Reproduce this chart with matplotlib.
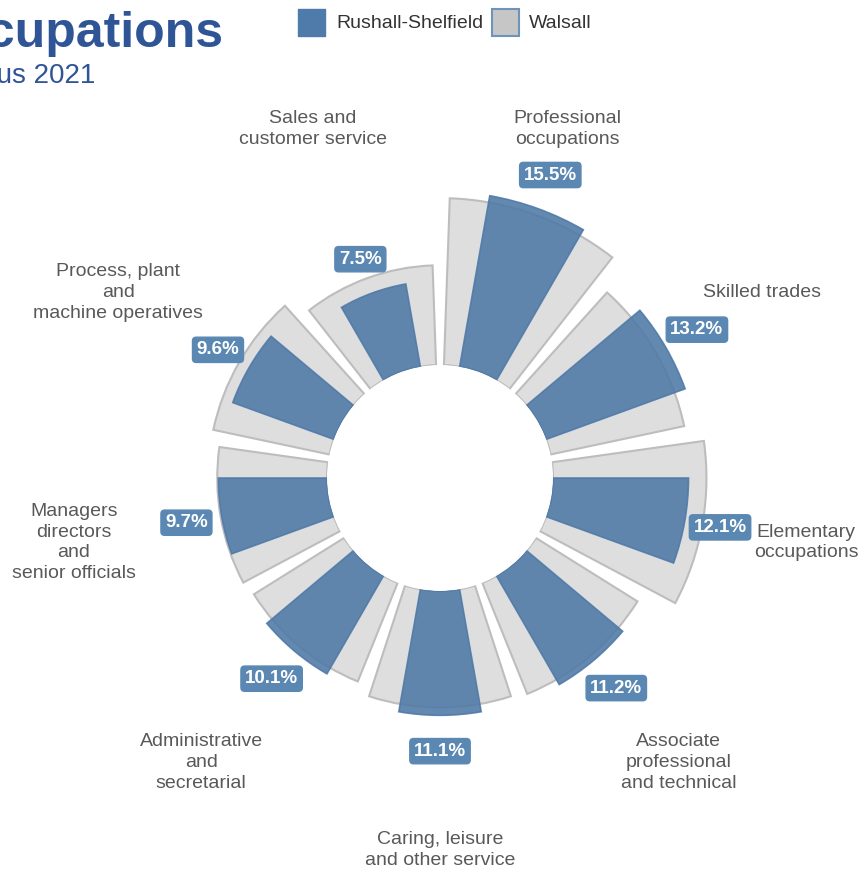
import numpy as np
import matplotlib
matplotlib.use("Agg")
import matplotlib.pyplot as plt
from matplotlib.patches import Rectangle

plt.rcParams['font.family'] = ['Liberation Sans', 'DejaVu Sans']

categories = [
    "Professional\noccupations",
    "Skilled trades",
    "Elementary\noccupations",
    "Associate\nprofessional\nand technical",
    "Caring, leisure\nand other service",
    "Administrative\nand\nsecretarial",
    "Managers\ndirectors\nand\nsenior officials",
    "Process, plant\nand\nmachine operatives",
    "Sales and\ncustomer service",
]
rushall = [15.5, 13.2, 12.1, 11.2, 11.1, 10.1, 9.7, 9.6, 7.5]
walsall = [14.9, 12.2, 13.7, 10.7, 10.4, 9.5, 9.8, 10.6, 8.9]
series_names = ["Rushall-Shelfield", "Walsall"]
title_text = "Occupations"
subtitle_text = "Census 2021"

W, H = 861, 871
fig = plt.figure(figsize=(W / 100, H / 100), dpi=100)

# geometry (pixels)
cx, cy = 440, 478
px_per_unit = 11.2
hole = 113 / px_per_unit
rmax = 24.0
R = (rmax + hole) * px_per_unit
ax = fig.add_axes([(cx - R) / W, (H - cy - R) / H, 2 * R / W, 2 * R / H], projection='polar')
ax.set_theta_zero_location('N')
ax.set_theta_direction(-1)
ax.set_ylim(0, rmax)
ax.set_rorigin(-hole)
ax.set_axis_off()

n = len(categories)
step = 2 * np.pi / n
theta = np.deg2rad(20) + step * np.arange(n)

blue = '#4E79A7'
ax.bar(theta, walsall, width=step * 0.9, bottom=0, color='#dedede',
       edgecolor='#bdbdbd', linewidth=1.5, zorder=2)
ax.bar(theta, rushall, width=step * 0.5, bottom=0, color=blue, alpha=0.88,
       edgecolor=blue, linewidth=1.2, zorder=3)

for t, v in zip(theta, rushall):
    ax.text(t, v + 3.2, f"{v}%", ha='center', va='center', fontsize=13.5,
            fontweight='bold', color='white', zorder=5,
            bbox=dict(boxstyle='round,pad=0.22,rounding_size=0.2',
                      facecolor='#5b88b2', edgecolor='#5b88b2'))

for t, lab in zip(theta, categories):
    ax.text(t, 23.1, lab, ha='center', va='center', fontsize=14,
            color='#595959', linespacing=1.3, multialignment='center')

# title / subtitle (cropped on the left as in reference)
fig.text(223 / W, 1 - 47 / H, title_text, ha='right', va='baseline',
         fontsize=36, fontweight='bold', color='#2F5597')
fig.text(95 / W, 1 - 83 / H, subtitle_text, ha='right', va='baseline',
         fontsize=20, color='#2F5597')

# legend (manual)
sw = 27
fig.patches.append(Rectangle((298 / W, 1 - 36 / H), sw / W, sw / H,
                             transform=fig.transFigure, facecolor='#4E7BAA',
                             edgecolor='#4E7BAA', linewidth=1))
fig.text(336 / W, 1 - 23 / H, series_names[0], ha='left', va='center',
         fontsize=14, color='#333333')
fig.patches.append(Rectangle((492 / W, 1 - 36 / H), sw / W, sw / H,
                             transform=fig.transFigure, facecolor='#c6c6c6',
                             edgecolor='#6f93bb', linewidth=1.5))
fig.text(529 / W, 1 - 23 / H, series_names[1], ha='left', va='center',
         fontsize=14, color='#333333')

fig.savefig('out.png', dpi=100)
